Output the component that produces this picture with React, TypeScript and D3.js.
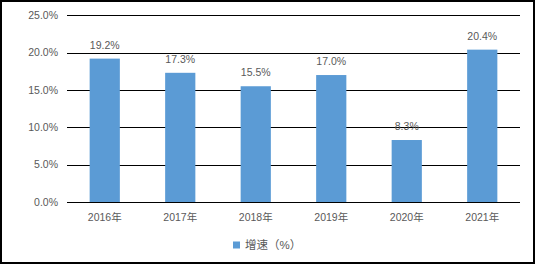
import React from "react";
import * as d3 from "d3";

const categories = ["2016年", "2017年", "2018年", "2019年", "2020年", "2021年"];
const values = [19.2, 17.3, 15.5, 17.0, 8.3, 20.4];
const yTicks = [0, 5, 10, 15, 20, 25];
const seriesName = "增速（%）";

const W = 536;
const H = 266;
const left = 67;
const right = 520;
const top = 15.3;
const bottom = 202;
const font = "'Liberation Sans', 'Noto Sans CJK SC', sans-serif";
const textColor = "#595959";
const barColor = "#5B9BD5";

export default function App() {
  const x = d3.scaleBand<string>().domain(categories).range([left, right]).paddingInner(0.6).paddingOuter(0.3);
  const y = d3.scaleLinear().domain([0, 25]).range([bottom, top]);
  return (
    <svg width={W} height={H} style={{ position: "fixed", left: 0, top: 0 }}>
      <rect x={0} y={0} width={W} height={H} fill="#fff" />
      {yTicks.map((t) => (
        <g key={t}>
          <line x1={left} x2={right} y1={Math.round(y(t)) + 0.5} y2={Math.round(y(t)) + 0.5} stroke="#000" strokeWidth={1} />
          <text x={left - 9} y={y(t)} dy="0.35em" textAnchor="end" fontSize={10.5} fontFamily={font} fill={textColor}>
            {t.toFixed(1)}%
          </text>
        </g>
      ))}
      {categories.map((c, i) => (
        <g key={c}>
          <rect x={x(c)!} y={y(values[i])} width={x.bandwidth()} height={bottom - y(values[i])} fill={barColor} />
          <text x={x(c)! + x.bandwidth() / 2} y={y(values[i]) - 10} textAnchor="middle" fontSize={10.5} fontFamily={font} fill={textColor}>
            {values[i].toFixed(1)}%
          </text>
          <text x={x(c)! + x.bandwidth() / 2} y={217} dy="0.35em" textAnchor="middle" fontSize={10.5} fontFamily={font} fill={textColor}>
            {c}
          </text>
        </g>
      ))}
      <line x1={left} x2={right} y1={Math.round(y(0)) + 0.5} y2={Math.round(y(0)) + 0.5} stroke="#000" strokeWidth={1} />
      <rect x={233} y={241.5} width={7} height={7} fill={barColor} />
      <text x={245} y={245} dy="0.35em" fontSize={11.5} fontFamily={font} fill={textColor}>
        {seriesName}
      </text>
      <rect x={1} y={1} width={533} height={262} fill="none" stroke="#000" strokeWidth={2} />
    </svg>
  );
}
